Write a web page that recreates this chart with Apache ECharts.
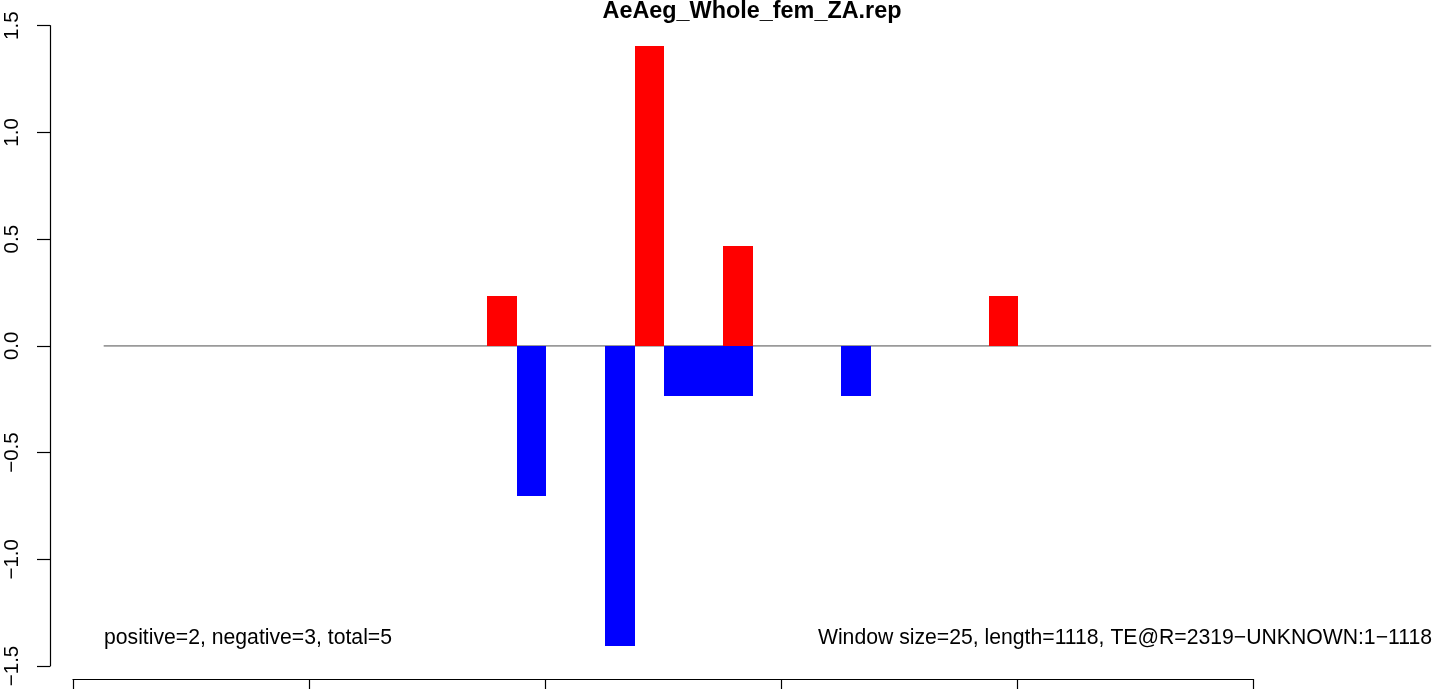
<!DOCTYPE html>
<html>
<head>
<meta charset="utf-8">
<script src="https://cdn.jsdelivr.net/npm/echarts@6/dist/echarts.min.js"></script>
<style>
html,body{margin:0;padding:0;background:#fff;}
#chart{width:1444px;height:689px;}
</style>
</head>
<body>
<div id="chart"></div>
<script>
// ---- data ----
const titleText = 'AeAeg_Whole_fem_ZA.rep';
const leftNote = 'positive=2, negative=3, total=5';
const rightNote = 'Window size=25, length=1118, TE@R=2319\u2212UNKNOWN:1\u22121118';
const windowSize = 25;
const posStarts = [351, 476, 551, 776];
const posValues = [0.234, 1.404, 0.468, 0.234];
const negStarts = [376, 451, 501, 526, 551, 651];
const negValues = [-0.702, -1.404, -0.234, -0.234, -0.234, -0.234];
const zeroLineX = [26, 1151];
const yTicks = [-1.5, -1.0, -0.5, 0.0, 0.5, 1.0, 1.5];
const xTicks = [0, 200, 400, 600, 800, 1000];

const FONT = '"Liberation Sans", Arial, Helvetica, sans-serif';

function renderBar(params, api) {
  const s = api.value(0), v = api.value(1);
  const p0 = api.coord([s, 0]);
  const p1 = api.coord([s + windowSize, v]);
  const x0 = Math.round(p0[0]), x1 = Math.round(p1[0]);
  const y0 = Math.round(Math.min(p0[1], p1[1])), y1 = Math.round(Math.max(p0[1], p1[1]));
  return {
    type: 'rect',
    shape: {x: x0, y: y0, width: x1 - x0, height: y1 - y0},
    style: {fill: api.visual('color')}
  };
}

function renderZeroLine(params, api) {
  const a = api.coord([api.value(0), api.value(1)]);
  const b = api.coord([api.value(2), api.value(1)]);
  return {
    type: 'line',
    shape: {x1: a[0], y1: a[1], x2: b[0], y2: b[1]},
    style: {stroke: '#9a9a9a', lineWidth: 1.6}
  };
}

const chart = echarts.init(document.getElementById('chart'), null, {renderer: 'canvas'});
chart.setOption({
  animation: false,
  backgroundColor: '#fff',
  grid: {left: 73, top: 25.7, width: 1180, height: 640.3, containLabel: false, outerBoundsMode: 'none'},
  xAxis: {
    type: 'value', min: xTicks[0], max: xTicks[xTicks.length - 1], interval: xTicks[1] - xTicks[0],
    position: 'bottom', offset: 13,
    axisLine: {show: true, onZero: false, lineStyle: {color: '#000', width: 1.2}},
    axisTick: {show: true, length: 12, lineStyle: {color: '#000', width: 1.2}},
    axisLabel: {show: false},
    splitLine: {show: false}
  },
  yAxis: {
    type: 'value', min: yTicks[0], max: yTicks[yTicks.length - 1], interval: yTicks[1] - yTicks[0],
    position: 'left', offset: 23,
    axisLine: {show: true, onZero: false, lineStyle: {color: '#000', width: 1.2}},
    axisTick: {show: true, length: 13, lineStyle: {color: '#000', width: 1.2}},
    axisLabel: {
      show: true, rotate: 90, margin: 27, color: '#000', fontSize: 20.5, fontFamily: FONT,
      formatter: v => v.toFixed(1).replace('-', '\u2212')
    },
    splitLine: {show: false}
  },
  graphic: [
    {type: 'text', x: 752, y: 12, style: {text: titleText, font: 'bold 23.4px ' + FONT, fill: '#000', textAlign: 'center', textVerticalAlign: 'middle'}},
    {type: 'text', x: 104, y: 638, style: {text: leftNote, font: '21.2px ' + FONT, fill: '#000', textAlign: 'left', textVerticalAlign: 'middle'}},
    {type: 'text', x: 1432, y: 638, style: {text: rightNote, font: '21.2px ' + FONT, fill: '#000', textAlign: 'right', textVerticalAlign: 'middle'}}
  ],
  series: [
    {type: 'custom', name: 'zero', renderItem: renderZeroLine, clip: false, z: 1, silent: true,
     data: [[zeroLineX[0], 0, zeroLineX[1]]]},
    {type: 'custom', name: 'positive', renderItem: renderBar, clip: false, z: 2, color: '#ff0000',
     data: posStarts.map((s, i) => [s, posValues[i]])},
    {type: 'custom', name: 'negative', renderItem: renderBar, clip: false, z: 2, color: '#0000ff',
     data: negStarts.map((s, i) => [s, negValues[i]])}
  ]
});
</script>
</body>
</html>
